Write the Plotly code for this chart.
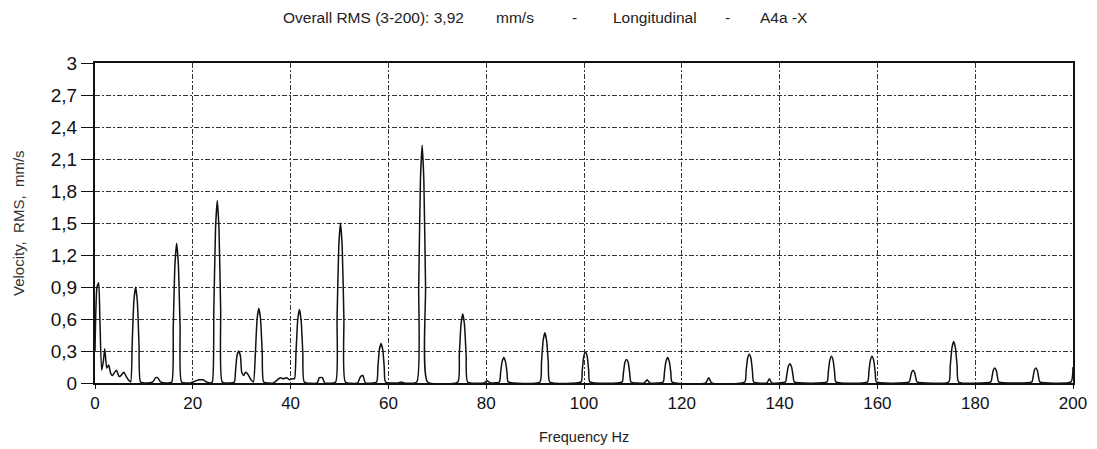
import plotly.graph_objects as go

# Spectrum vertices (Hz, mm/s); one line per feature, same order in both lists
freq_hz = [
    0, 0.4, 0.75, 1.0, 1.35, 1.7, 2.0, 2.4, 2.8, 3.2, 3.6, 4.0, 4.4, 4.9, 5.3, 5.9, 6.4, 6.8,
    7.3, 7.6, 7.95, 8.3, 8.65, 9.0, 9.3,
    10.5, 11.8, 12.4, 12.8, 13.4, 14.5,
    15.7, 16.0, 16.35, 16.7, 17.05, 17.4, 17.7,
    19.5, 20.6, 21.4, 22.1, 22.8, 23.5,
    24.0, 24.3, 24.65, 25.0, 25.35, 25.7, 26.0,
    27.5, 28.5, 28.75, 29.05, 29.4, 29.75, 30.0, 30.4, 30.8, 31.3, 31.9, 32.4,
    32.8, 33.15, 33.5, 33.85, 34.2, 34.5,
    36.5, 37.3, 37.9, 38.5, 39.2, 39.8, 40.3,
    40.8, 41.1, 41.45, 41.8, 42.15, 42.5, 42.8,
    45.4, 45.9, 46.5, 47.0,
    49.2, 49.5, 49.85, 50.2, 50.55, 50.9, 51.2,
    53.7, 54.3, 54.8, 55.3,
    57.6, 57.85, 58.15, 58.5, 58.85, 59.15, 59.4,
    62.0, 62.6, 63.2,
    65.8, 66.2, 66.55, 66.9, 67.25, 67.6, 68.0,
    74.2, 74.5, 74.85, 75.2, 75.55, 75.9, 76.2,
    79.5, 80.2, 80.9,
    82.7, 82.95, 83.25, 83.6, 83.95, 84.25, 84.5,
    91.0, 91.3, 91.65, 92.0, 92.35, 92.7, 93.0,
    99.4, 99.65, 99.95, 100.3, 100.65, 100.95, 101.2,
    107.8, 108.05, 108.35, 108.7, 109.05, 109.35, 109.6,
    112.3, 112.9, 113.5,
    116.2, 116.45, 116.75, 117.1, 117.45, 117.75, 118.0,
    124.9, 125.5, 126.1,
    132.9, 133.15, 133.45, 133.8, 134.15, 134.45, 134.7,
    137.4, 137.9, 138.4,
    141.2, 141.45, 141.75, 142.1, 142.45, 142.75, 143.0,
    149.7, 149.95, 150.25, 150.6, 150.95, 151.25, 151.5,
    158.0, 158.25, 158.55, 158.9, 159.25, 159.55, 159.8,
    166.5, 166.75, 167.0, 167.3, 167.6, 167.85, 168.1,
    174.6, 174.9, 175.25, 175.6, 175.95, 176.3, 176.6,
    183.2, 183.45, 183.7, 184.0, 184.3, 184.55, 184.8,
    191.6, 191.85, 192.1, 192.4, 192.7, 192.95, 193.2,
    199.6, 200,
]
velocity = [
    0.3, 0.9, 0.94, 0.6, 0.12, 0.2, 0.32, 0.14, 0.17, 0.09, 0.07, 0.1, 0.12, 0.06, 0.07, 0.1, 0.06, 0.03,
    0.01, 0.36, 0.77, 0.90, 0.77, 0.36, 0.01,
    0.0, 0.01, 0.05, 0.05, 0.01, 0.0,
    0.01, 0.52, 1.11, 1.31, 1.11, 0.52, 0.01,
    0.0, 0.02, 0.03, 0.03, 0.01, 0.0,
    0.01, 0.68, 1.45, 1.71, 1.45, 0.68, 0.01,
    0.0, 0.01, 0.12, 0.26, 0.30, 0.25, 0.1, 0.07, 0.1, 0.08, 0.03, 0.01,
    0.28, 0.6, 0.70, 0.6, 0.28, 0.01,
    0.0, 0.03, 0.05, 0.04, 0.05, 0.03, 0.04,
    0.04, 0.28, 0.59, 0.69, 0.59, 0.28, 0.01,
    0.0, 0.05, 0.05, 0.0,
    0.01, 0.6, 1.28, 1.50, 1.28, 0.6, 0.01,
    0.0, 0.06, 0.07, 0.0,
    0.01, 0.15, 0.31, 0.37, 0.31, 0.15, 0.01,
    0.0, 0.01, 0.0,
    0.01, 0.9, 1.9, 2.23, 1.9, 0.9, 0.01,
    0.01, 0.26, 0.55, 0.65, 0.55, 0.26, 0.01,
    0.0, 0.02, 0.0,
    0.01, 0.1, 0.2, 0.24, 0.2, 0.1, 0.01,
    0.01, 0.19, 0.4, 0.47, 0.4, 0.19, 0.01,
    0.01, 0.12, 0.25, 0.29, 0.25, 0.12, 0.01,
    0.01, 0.09, 0.19, 0.22, 0.19, 0.09, 0.01,
    0.0, 0.03, 0.0,
    0.01, 0.1, 0.2, 0.24, 0.2, 0.1, 0.01,
    0.0, 0.05, 0.0,
    0.01, 0.11, 0.23, 0.27, 0.23, 0.11, 0.01,
    0.0, 0.04, 0.0,
    0.01, 0.07, 0.15, 0.18, 0.15, 0.07, 0.01,
    0.01, 0.1, 0.21, 0.25, 0.21, 0.1, 0.01,
    0.01, 0.1, 0.21, 0.25, 0.21, 0.1, 0.01,
    0.01, 0.05, 0.1, 0.12, 0.1, 0.05, 0.01,
    0.01, 0.16, 0.33, 0.39, 0.33, 0.16, 0.01,
    0.01, 0.06, 0.12, 0.14, 0.12, 0.06, 0.01,
    0.01, 0.06, 0.12, 0.14, 0.12, 0.06, 0.01,
    0.01, 0.15,
]

x_ticks = [0, 20, 40, 60, 80, 100, 120, 140, 160, 180, 200]
y_ticks = [0, 0.3, 0.6, 0.9, 1.2, 1.5, 1.8, 2.1, 2.4, 2.7, 3]
y_tick_labels = ["0", "0,3", "0,6", "0,9", "1,2", "1,5", "1,8", "2,1", "2,4", "2,7", "3"]

# Title pieces (text, horizontal position as fraction of the plot width)
title_parts = ["Overall RMS (3-200): 3,92", "mm/s", "-", "Longitudinal", "-", "A4a -X"]
title_pos = [0.2843, 0.4294, 0.4898, 0.5726, 0.6472, 0.7045]

fig = go.Figure()
fig.add_trace(go.Scatter(x=freq_hz, y=velocity, mode="lines",
                         line=dict(color="#111111", width=1.5, shape="spline", smoothing=0.5),
                         showlegend=False, hoverinfo="x+y"))

font_family = "Liberation Sans, Arial, sans-serif"
grid_dash = "5px,2px,2px,2px"

annotations = [dict(text=t, x=p, y=1, xref="paper", yref="paper", xanchor="center", yanchor="middle",
                    yshift=46, showarrow=False, font=dict(size=15.5, color="#222222"))
               for t, p in zip(title_parts, title_pos)]
annotations.append(dict(text="Frequency Hz", x=0.5, y=0, xref="paper", yref="paper",
                        xanchor="center", yanchor="middle", yshift=-54, showarrow=False,
                        font=dict(size=14.5, color="#222222")))
annotations.append(dict(text="Velocity,\u00a0 RMS,\u00a0 mm/s", x=0, y=0.5, xref="paper", yref="paper",
                        xanchor="center", yanchor="middle", xshift=-77, textangle=-90, showarrow=False,
                        font=dict(size=15, color="#333333")))

fig.update_layout(
    width=1097, height=449,
    margin=dict(l=87, r=32, t=55, b=74),
    paper_bgcolor="white", plot_bgcolor="white",
    font=dict(family=font_family, color="#111111"),
    annotations=annotations,
    xaxis=dict(range=[0, 200], tickvals=x_ticks, ticks="outside", ticklen=4, tickcolor="#111",
               showgrid=True, gridcolor="#333333", gridwidth=1, griddash=grid_dash,
               showline=True, linecolor="#111111", linewidth=2, mirror=True, zeroline=False,
               tickfont=dict(size=17, color="#111")),
    yaxis=dict(range=[0, 3], tickvals=y_ticks, ticktext=y_tick_labels, ticks="outside", ticklen=12,
               tickcolor="#111", showgrid=True, gridcolor="#333333", gridwidth=1, griddash=grid_dash,
               showline=True, linecolor="#111111", linewidth=2, mirror=True, zeroline=False,
               tickfont=dict(size=19, color="#111")),
)

fig.write_html("out.html")
